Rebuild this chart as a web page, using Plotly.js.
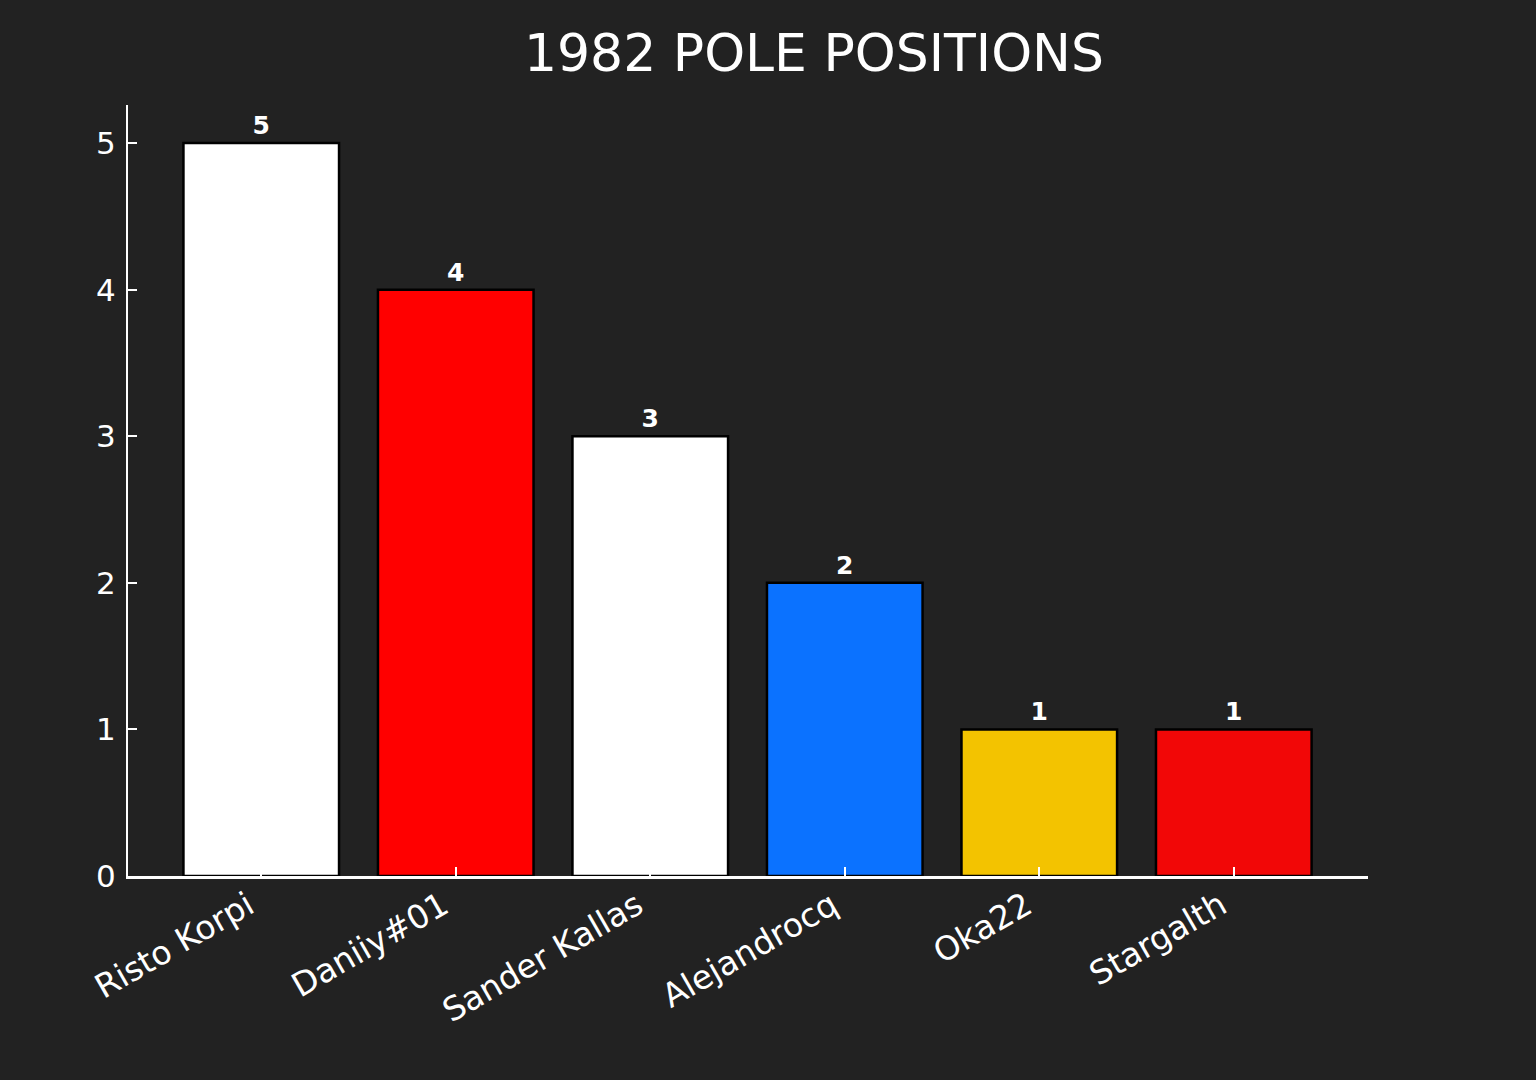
<!DOCTYPE html>
<html>
<head>
<meta charset="utf-8">
<script src="https://cdn.plot.ly/plotly-3.0.1.min.js"></script>
<style>
	html, body { margin: 0; padding: 0; background: #222222; }
	#chart { width: 1536px; height: 1080px; }
</style>
</head>
<body>
<div id="chart"></div>
<script>
	// pole positions per driver, 1982 season
	const drivers = ['Risto Korpi', 'Daniiy#01', 'Sander Kallas', 'Alejandrocq', 'Oka22', 'Stargalth'];
	const poles = [5, 4, 3, 2, 1, 1];
	const barColors = ['#ffffff', '#ff0000', '#ffffff', '#0b72ff', '#f3c300', '#f20707'];
	const yTicks = [0, 1, 2, 3, 4, 5];

	const trace = {
		type: 'bar',
		x: drivers,
		y: poles,
		width: 0.8,
		marker: {
			color: barColors,
			line: { color: '#000000', width: 2.5 }
		},
		text: poles.map(String),
		textposition: 'outside',
		cliponaxis: false,
		textfont: { family: 'DejaVu Sans', size: 25, color: '#ffffff', weight: 'bold' },
		hoverinfo: 'none'
	};

	const layout = {
		width: 1536,
		height: 1080,
		paper_bgcolor: '#222222',
		plot_bgcolor: '#222222',
		margin: { l: 128, r: 168, t: 105, b: 204 },
		showlegend: false,
		title: {
			text: '1982 POLE POSITIONS',
			font: { family: 'DejaVu Sans', size: 52, color: '#ffffff' },
			xref: 'container',
			yref: 'container',
			x: 814 / 1536,
			xanchor: 'center',
			y: 1 - 53 / 1080,
			yanchor: 'middle'
		},
		xaxis: {
			type: 'category',
			range: [-0.685, 5.69],
			showline: true,
			linecolor: '#ffffff',
			linewidth: 2.5,
			showgrid: false,
			zeroline: false,
			ticks: 'inside',
			ticklen: 9,
			tickwidth: 2,
			tickcolor: '#ffffff',
			tickangle: -30,
			ticklabelshift: -13,
			ticklabelstandoff: -5,
			tickfont: { family: 'DejaVu Sans', size: 33, color: '#ffffff' }
		},
		yaxis: {
			range: [0, 5.26],
			tickvals: yTicks,
			showline: true,
			linecolor: '#ffffff',
			linewidth: 2,
			showgrid: false,
			zeroline: false,
			ticks: 'inside',
			ticklen: 9,
			tickwidth: 2,
			tickcolor: '#ffffff',
			ticklabelstandoff: 4,
			tickfont: { family: 'DejaVu Sans', size: 31, color: '#ffffff' }
		}
	};

	Plotly.newPlot('chart', [trace], layout, { displayModeBar: false, staticPlot: true });
</script>
</body>
</html>
